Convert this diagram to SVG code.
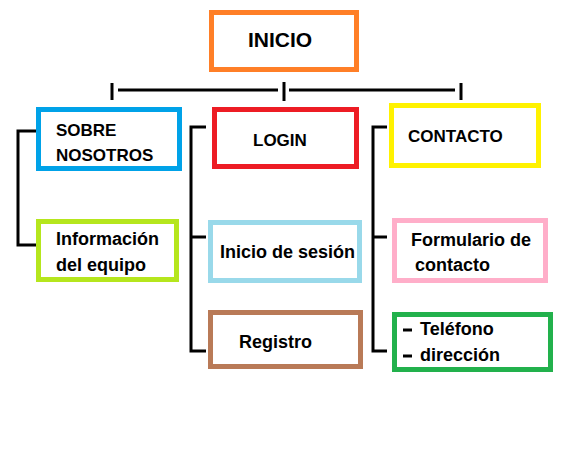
<svg xmlns="http://www.w3.org/2000/svg" width="568" height="457" viewBox="0 0 568 457">
<style>
.box{fill:#ffffff;stroke-width:5}
.t{font-family:"Liberation Sans",Arial,sans-serif;font-weight:bold;font-size:17px;fill:#000}
.m{font-size:18px}
.c{fill:none;stroke:#000;stroke-width:3}
</style>
<rect width="568" height="457" fill="#ffffff"/>
<g id="connectors">
<line class="c" x1="118" y1="90" x2="278" y2="90"/>
<line class="c" x1="289" y1="90" x2="455" y2="90"/>
<line class="c" x1="112" y1="83" x2="112" y2="100"/>
<line class="c" x1="284" y1="82" x2="284" y2="101"/>
<line class="c" x1="461" y1="83" x2="461" y2="100"/>
<polyline class="c" points="36,131 18,131 18,245 36,245"/>
<polyline class="c" points="206,127 191,127 191,351 206,351"/>
<line class="c" x1="191" y1="237" x2="206" y2="237"/>
<polyline class="c" points="387,127 373,127 373,351 387,351"/>
<line class="c" x1="373" y1="237" x2="387" y2="237"/>
</g>
<g id="inicio">
<rect class="box" x="211.5" y="12.5" width="145" height="57" stroke="#ff7f27"/>
<text class="t" x="248" y="47" style="font-size:21px">INICIO</text>
</g>
<g id="sobre">
<rect class="box" x="38.5" y="109.5" width="141" height="59" stroke="#00a2e8"/>
<text class="t" x="56" y="136">SOBRE</text>
<text class="t" x="56" y="161">NOSOTROS</text>
</g>
<g id="info">
<rect class="box" x="38.5" y="221.5" width="138" height="58" stroke="#b5e61d"/>
<text class="t m" x="56" y="245">Información</text>
<text class="t m" x="56" y="271">del equipo</text>
</g>
<g id="login">
<rect class="box" x="214.5" y="109.5" width="142" height="57" stroke="#ed1c24"/>
<text class="t" x="253" y="146">LOGIN</text>
</g>
<g id="sesion">
<rect class="box" x="210.5" y="222.5" width="149" height="58" stroke="#99d9ea"/>
<text class="t m" x="220" y="258">Inicio de sesión</text>
</g>
<g id="registro">
<rect class="box" x="210.5" y="312.5" width="150" height="54" stroke="#b97a57"/>
<text class="t m" x="239" y="348">Registro</text>
</g>
<g id="contacto">
<rect class="box" x="391.5" y="105.5" width="147" height="60" stroke="#fff200"/>
<text class="t" x="408" y="142">CONTACTO</text>
</g>
<g id="formulario">
<rect class="box" x="394.5" y="220.5" width="151" height="60" stroke="#ffaec9"/>
<text class="t m" x="411" y="246">Formulario de</text>
<text class="t m" x="415" y="271">contacto</text>
</g>
<g id="telefono">
<rect class="box" x="394.5" y="314.5" width="156" height="55" stroke="#22b14c"/>
<line x1="403" y1="330" x2="412" y2="330" stroke="#000" stroke-width="3"/>
<line x1="403" y1="356" x2="412" y2="356" stroke="#000" stroke-width="3"/>
<text class="t m" x="420" y="335">Teléfono</text>
<text class="t m" x="420" y="361">dirección</text>
</g>
</svg>
